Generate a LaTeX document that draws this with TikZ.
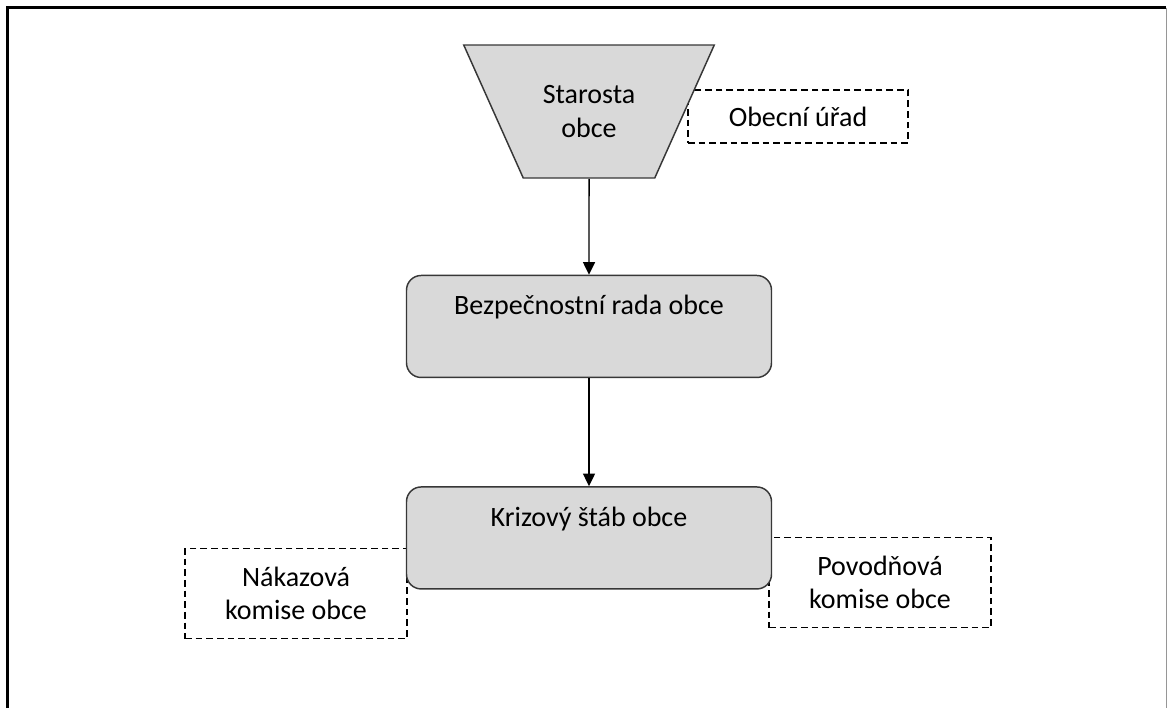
\documentclass[tikz,border=0pt]{standalone}
\usepackage{fontspec}
\setmainfont{Carlito}
\usetikzlibrary{shapes.geometric, arrows.meta, positioning, backgrounds}
\definecolor{boxGray}{RGB}{217, 217, 217}
\definecolor{edgeGray}{RGB}{55, 55, 55}
\definecolor{frameGray}{RGB}{150, 150, 150}

\begin{document}
\begin{tikzpicture}[
    x=0.75pt, y=-0.75pt,
    font=\fontsize{21}{25}\selectfont,
    % hlavni bloky
    block/.style={
        draw=edgeGray,
        fill=boxGray,
        line width=1.1pt,
        rounded corners=11pt,
        minimum width=273.75pt,
        minimum height=76.5pt,
        inner sep=0pt
    },
    % napis v horni casti bloku
    toptext/.style={
        anchor=north,
        yshift=-12pt
    },
    % starosta
    funnel/.style={
        trapezium,
        shape border rotate=180,
        trapezium angle=51,
        trapezium stretches=true,
        draw=edgeGray,
        fill=boxGray,
        line width=1.1pt,
        minimum width=188.25pt,
        minimum height=99.75pt,
        inner sep=0pt,
        align=center
    },
    % carkovane boxy
    sidebox/.style={
        draw=black,
        line width=1pt,
        dash pattern=on 5pt off 3pt,
        align=center,
        inner sep=0pt
    },
    % sipky
    arrow/.style={
        -{Triangle[length=9.5pt, width=9pt]},
        line width=1.1pt,
        black
    }
]
    \useasboundingbox (0,0) rectangle (1168,708);

    % ramecek
    \draw[line width=2.25pt, black] (7.5,708) -- (7.5,7.5) -- (1166,7.5);
    \draw[line width=1pt, frameGray] (1166.5,7.5) -- (1166.5,708);

    % --- hlavni linie ---
    \node[funnel] (starosta) at (589,111.5) {Starosta\\obce};

    \node[block, below=72pt of starosta,
        label={[toptext, name=rada_text]north:Bezpečnostní rada obce}] (rada) {};

    \node[block, below=81pt of rada,
        label={[toptext, name=stab_text]north:Krizový štáb obce}] (stab) {};

    \draw[arrow] (starosta) -- (rada);
    \draw[arrow] (rada) -- (stab);

    % --- carkovane boxy ---
    \begin{scope}[on background layer]
        \node[sidebox, minimum width=165pt, minimum height=39.75pt] (urad) at (798,116.5) {Obecní úřad};
        \node[sidebox, minimum width=166.5pt, minimum height=67.5pt] (nakaz) at (296,593.5) {Nákazová\\komise obce};
        \node[sidebox, minimum width=166.5pt, minimum height=67.5pt] (povod) at (880,582.5) {Povodňová\\komise obce};
    \end{scope}

\end{tikzpicture}
\end{document}
